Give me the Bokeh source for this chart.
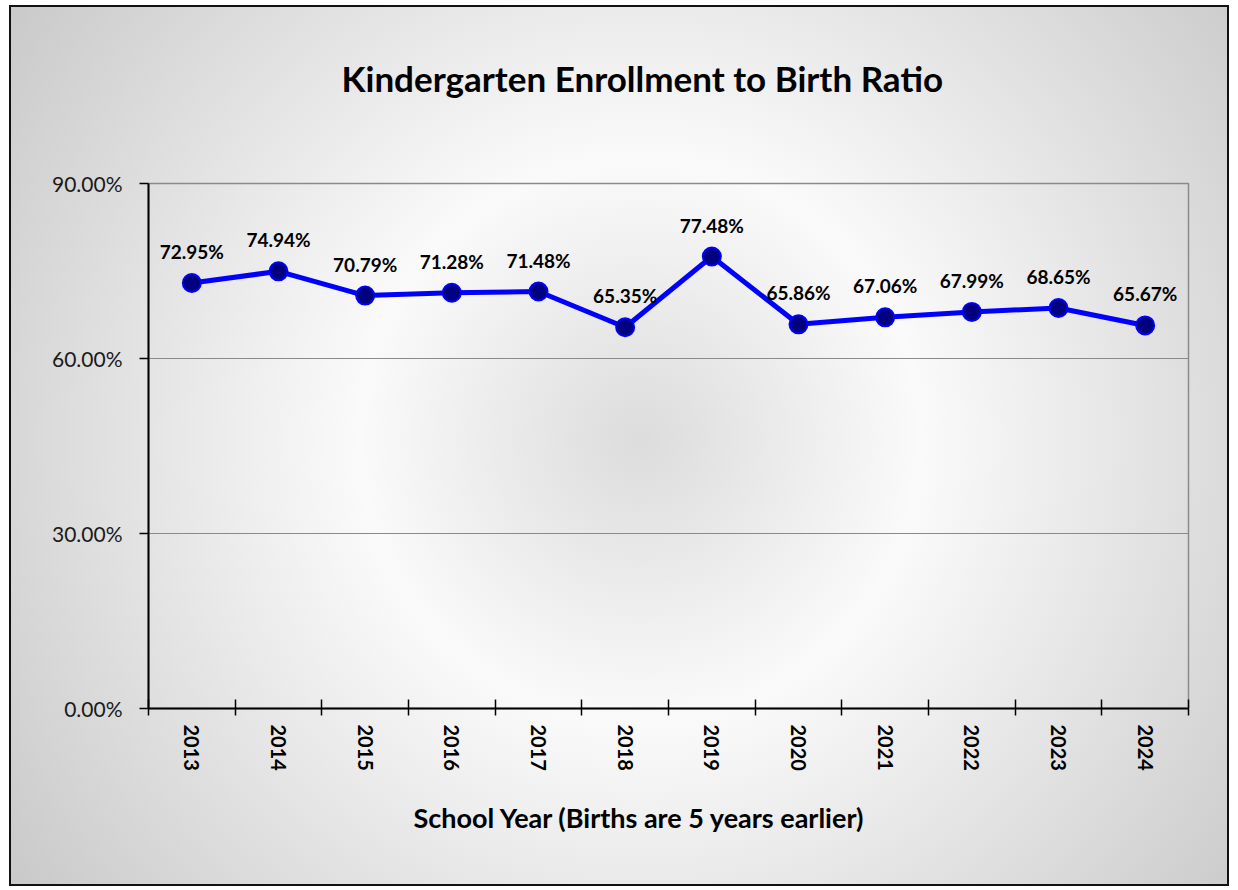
from bokeh.plotting import figure
from bokeh.models import FixedTicker, PrintfTickFormatter, ColumnDataSource, Title
from bokeh.core.properties import value
from bokeh.embed import file_html
from bokeh.resources import INLINE

years = ["2013", "2014", "2015", "2016", "2017", "2018", "2019", "2020", "2021", "2022", "2023", "2024"]
ratios = [72.95, 74.94, 70.79, 71.28, 71.48, 65.35, 77.48, 65.86, 67.06, 67.99, 68.65, 65.67]
y_ticks = [0, 30, 60, 90]

title_text = "Kindergarten  Enrollment  to Birth Ratio"
x_label = "School Year (Births are 5 years earlier)"

FONT = "Lato"

xs = [i + 0.5 for i in range(len(years))]
src = ColumnDataSource(dict(x=xs, y=ratios, lab=[f"{v:.2f}%" for v in ratios]))

p = figure(width=1220, height=881, x_range=(0, len(years)), y_range=(0, 90),
           output_backend="svg", toolbar_location=None, title=None,
           min_border_left=139, min_border_right=41, min_border_top=178, min_border_bottom=178)

p.border_fill_color = None
p.background_fill_color = None
p.styles = {
    "margin-left": "9px",
    "margin-top": "5px",
    "background": "radial-gradient(circle at 631px 435px, #dcdcdc 0px, #fafafa 280px, #c6c6c6 800px)",
    "box-shadow": "inset 0 0 0 2px #111111",
}
p.outline_line_color = "#8a8a8a"
p.outline_line_width = 1.5

# spacer between frame and title, then the title itself
p.add_layout(Title(text=" ", text_font_size="10px", standoff=67), "above")
p.add_layout(Title(text=title_text, text_font=FONT, text_font_size="35px", text_font_style="bold",
                   text_color="#000000", align="left", offset=193, standoff=10), "above")

# x axis
xa = p.xaxis[0]
xa.ticker = FixedTicker(ticks=xs, minor_ticks=list(range(len(years) + 1)))
xa.major_label_overrides = {x: y for x, y in zip(xs, years)}
xa.major_tick_in = 0
xa.major_tick_out = 0
xa.minor_tick_in = 9
xa.minor_tick_out = 7
xa.minor_tick_line_color = "#000000"
xa.minor_tick_line_width = 1.5
xa.axis_line_color = "#000000"
xa.axis_line_width = 2
xa.major_label_orientation = "vertical"
xa.major_label_standoff = 9
xa.major_label_text_font = FONT
xa.major_label_text_font_style = "bold"
xa.major_label_text_font_size = "20px"
xa.major_label_text_color = "#000000"

p.add_layout(Title(text=x_label, text_font=FONT, text_font_size="27px", text_font_style="bold",
                   text_color="#000000", align="left", offset=265, standoff=50), "below")

# y axis
ya = p.yaxis[0]
ya.ticker = FixedTicker(ticks=y_ticks)
ya.formatter = PrintfTickFormatter(format="%.2f%%")
ya.major_tick_in = 0
ya.major_tick_out = 9
ya.major_tick_line_color = "#000000"
ya.major_tick_line_width = 1.5
ya.minor_tick_line_color = None
ya.axis_line_color = "#000000"
ya.axis_line_width = 2
ya.major_label_standoff = 17
ya.major_label_text_font = FONT
ya.major_label_text_font_size = "21px"
ya.major_label_text_color = "#1a1a1a"

p.xgrid.grid_line_color = None
p.ygrid.ticker = FixedTicker(ticks=y_ticks)
p.ygrid.grid_line_color = "#8a8a8a"
p.ygrid.grid_line_width = 1

p.line("x", "y", source=src, line_color="#0000ff", line_width=5)
p.scatter("x", "y", source=src, size=18, fill_color="#000080", line_color="#0000ff", line_width=2)
p.text("x", "y", text="lab", source=src, text_align="center", text_baseline="bottom", y_offset=-20,
       text_font=value(FONT), text_font_style="bold", text_font_size="19px", text_color="#000000")

open("out.html", "w").write(file_html(p, INLINE))
